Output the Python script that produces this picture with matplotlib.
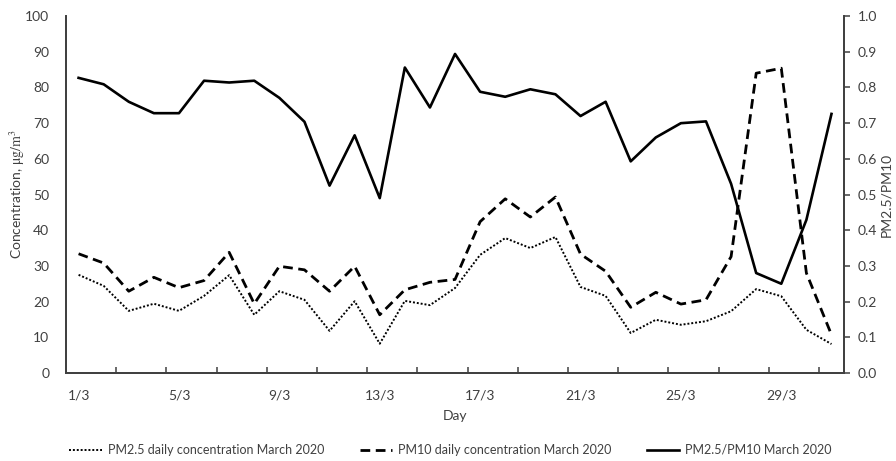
import matplotlib
matplotlib.use("Agg")
import matplotlib.pyplot as plt
from matplotlib.ticker import FixedLocator, MultipleLocator

plt.rcParams["font.family"] = ["Lato", "DejaVu Sans"]
plt.rcParams["mathtext.fontset"] = "stix"

days = list(range(1, 32))
day_labels = ["1/3", "5/3", "9/3", "13/3", "17/3", "21/3", "25/3", "29/3"]
label_days = [1, 5, 9, 13, 17, 21, 25, 29]

pm25 = [27.5, 24.4, 17.4, 19.4, 17.4, 21.6, 27.4, 16.3, 22.9, 20.5,
        11.8, 20.1, 8.2, 20.2, 19.0, 23.8, 33.1, 37.8, 35.0, 38.1,
        24.1, 21.6, 11.2, 14.9, 13.5, 14.5, 17.3, 23.5, 21.5, 12.1, 8.1]
pm10 = [33.4, 30.8, 22.9, 26.8, 23.9, 25.9, 33.8, 19.4, 29.9, 28.9,
        22.9, 29.9, 16.3, 23.3, 25.4, 26.2, 42.4, 48.8, 43.7, 49.3,
        33.3, 28.5, 18.4, 22.6, 19.3, 20.5, 32.6, 84.0, 85.4, 28.0, 10.7]
ratio = [0.827, 0.809, 0.760, 0.728, 0.728, 0.819, 0.814, 0.819, 0.771, 0.704,
         0.525, 0.666, 0.490, 0.856, 0.744, 0.894, 0.788, 0.774, 0.795, 0.781,
         0.720, 0.760, 0.593, 0.660, 0.700, 0.705, 0.530, 0.280, 0.250, 0.429, 0.726]

spine_color = "#404040"
text_color = "#404040"

fig = plt.figure(figsize=(8.96, 4.61), dpi=100)
ax = fig.add_axes([0.0737, 0.191, 0.8683, 0.774])
ax2 = ax.twinx()

l1, = ax.plot(days, pm25, color="black", lw=1.4, linestyle=(0, (1, 1)),
              label="PM2.5 daily concentration March 2020")
l2, = ax.plot(days, pm10, color="black", lw=2.0, linestyle=(0, (3.5, 2)),
              label="PM10 daily concentration March 2020")
l3, = ax2.plot(days, ratio, color="black", lw=1.9,
               label="PM2.5/PM10 March 2020")

ax.set_xlim(0.5, 31.5)
ax.set_ylim(0, 100)
ax2.set_ylim(0, 1.0)

ax.yaxis.set_major_locator(MultipleLocator(10))
ax2.yaxis.set_major_locator(MultipleLocator(0.1))
ax2.yaxis.set_major_formatter(matplotlib.ticker.FormatStrFormatter("%.1f"))

ax.set_xticks(label_days)
ax.set_xticklabels(day_labels)
ax.xaxis.set_minor_locator(FixedLocator([2.5 + 2 * i for i in range(15)]))
ax.tick_params(axis="x", which="major", length=0, pad=12, labelsize=10,
               labelcolor=text_color)
ax.tick_params(axis="x", which="minor", direction="in", length=4,
               width=1.1, color=spine_color)
ax.tick_params(axis="y", length=0, pad=12, labelsize=10, labelcolor=text_color)
ax2.tick_params(axis="y", direction="out", length=4, width=1.1,
                color=spine_color, pad=6, labelsize=10, labelcolor=text_color)

for a in (ax, ax2):
    a.spines["top"].set_visible(False)
    for s in ("left", "right", "bottom"):
        a.spines[s].set_color(spine_color)
        a.spines[s].set_linewidth(1.3)

ax.set_xlabel("Day", fontsize=10, color=text_color, labelpad=6)
ax.set_ylabel(r"Concentration, $\mathrm{μg/m^3}$", fontsize=10,
              color=text_color)
ax.yaxis.set_label_coords(-0.050, 0.5)
ax2.set_ylabel("PM2.5/PM10", fontsize=10, color=text_color)
ax2.yaxis.set_label_coords(1.047, 0.5)

fig.legend(handles=[l1, l2, l3], loc="center", bbox_to_anchor=(0.503, 0.024),
           ncol=3, frameon=False, fontsize=9, handlelength=2.6,
           handletextpad=0.5, columnspacing=2.8, labelcolor=text_color)

fig.savefig("out.png", dpi=100)
